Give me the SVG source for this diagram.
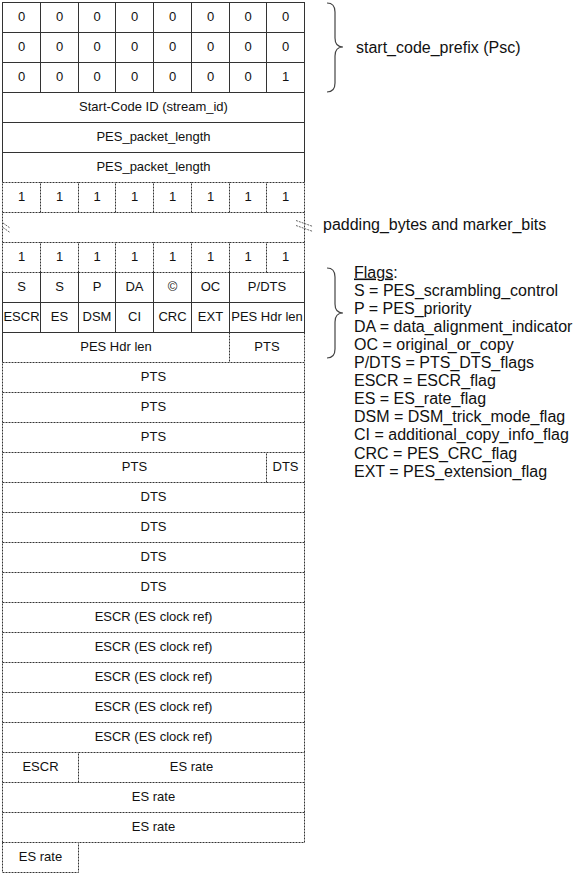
<svg xmlns="http://www.w3.org/2000/svg" width="577" height="877" viewBox="0 0 577 877">
<style>
.s{fill:none;stroke:#333;stroke-width:1}
.d{fill:none;stroke:#333;stroke-width:1;stroke-dasharray:2,1}
.t{font-family:"Liberation Sans",Arial,sans-serif;font-size:13px;fill:#111;text-anchor:middle}
.l{font-family:"Liberation Sans",Arial,sans-serif;font-size:16px;fill:#111}
.b{fill:none;stroke:#444;stroke-width:1.2}
.m{fill:none;stroke:#666;stroke-width:1;stroke-dasharray:2,1}
</style>
<rect width="577" height="877" fill="#fff"/>
<g id="psc">
<g id="r0c0"><rect class="s" x="2.5" y="2.5" width="38" height="30"/><text class="t" x="21.5" y="21">0</text></g>
<g id="r0c1"><rect class="s" x="40.5" y="2.5" width="38" height="30"/><text class="t" x="59.5" y="21">0</text></g>
<g id="r0c2"><rect class="s" x="78.5" y="2.5" width="37" height="30"/><text class="t" x="97" y="21">0</text></g>
<g id="r0c3"><rect class="s" x="115.5" y="2.5" width="38" height="30"/><text class="t" x="134.5" y="21">0</text></g>
<g id="r0c4"><rect class="s" x="153.5" y="2.5" width="38" height="30"/><text class="t" x="172.5" y="21">0</text></g>
<g id="r0c5"><rect class="s" x="191.5" y="2.5" width="38" height="30"/><text class="t" x="210.5" y="21">0</text></g>
<g id="r0c6"><rect class="s" x="229.5" y="2.5" width="37" height="30"/><text class="t" x="248" y="21">0</text></g>
<g id="r0c7"><rect class="s" x="266.5" y="2.5" width="38" height="30"/><text class="t" x="285.5" y="21">0</text></g>
<g id="r1c0"><rect class="s" x="2.5" y="32.5" width="38" height="30"/><text class="t" x="21.5" y="51">0</text></g>
<g id="r1c1"><rect class="s" x="40.5" y="32.5" width="38" height="30"/><text class="t" x="59.5" y="51">0</text></g>
<g id="r1c2"><rect class="s" x="78.5" y="32.5" width="37" height="30"/><text class="t" x="97" y="51">0</text></g>
<g id="r1c3"><rect class="s" x="115.5" y="32.5" width="38" height="30"/><text class="t" x="134.5" y="51">0</text></g>
<g id="r1c4"><rect class="s" x="153.5" y="32.5" width="38" height="30"/><text class="t" x="172.5" y="51">0</text></g>
<g id="r1c5"><rect class="s" x="191.5" y="32.5" width="38" height="30"/><text class="t" x="210.5" y="51">0</text></g>
<g id="r1c6"><rect class="s" x="229.5" y="32.5" width="37" height="30"/><text class="t" x="248" y="51">0</text></g>
<g id="r1c7"><rect class="s" x="266.5" y="32.5" width="38" height="30"/><text class="t" x="285.5" y="51">0</text></g>
<g id="r2c0"><rect class="s" x="2.5" y="62.5" width="38" height="30"/><text class="t" x="21.5" y="81">0</text></g>
<g id="r2c1"><rect class="s" x="40.5" y="62.5" width="38" height="30"/><text class="t" x="59.5" y="81">0</text></g>
<g id="r2c2"><rect class="s" x="78.5" y="62.5" width="37" height="30"/><text class="t" x="97" y="81">0</text></g>
<g id="r2c3"><rect class="s" x="115.5" y="62.5" width="38" height="30"/><text class="t" x="134.5" y="81">0</text></g>
<g id="r2c4"><rect class="s" x="153.5" y="62.5" width="38" height="30"/><text class="t" x="172.5" y="81">0</text></g>
<g id="r2c5"><rect class="s" x="191.5" y="62.5" width="38" height="30"/><text class="t" x="210.5" y="81">0</text></g>
<g id="r2c6"><rect class="s" x="229.5" y="62.5" width="37" height="30"/><text class="t" x="248" y="81">0</text></g>
<g id="r2c7"><rect class="s" x="266.5" y="62.5" width="38" height="30"/><text class="t" x="285.5" y="81">1</text></g>
</g>
<g id="stream-id"><rect class="s" x="2.5" y="92.5" width="302" height="30"/><text class="t" x="153.5" y="111">Start-Code ID (stream_id)</text></g>
<g id="len1"><rect class="s" x="2.5" y="122.5" width="302" height="30"/><text class="t" x="153.5" y="141">PES_packet_length</text></g>
<g id="len2"><path class="s" d="M2.5,182.5V152.5H304.5V182.5"/><text class="t" x="153.5" y="171">PES_packet_length</text></g>
<g id="ones-a">
<g id="r6c0"><path class="d" d="M2.5,212.5V182.5H40.5"/><text class="t" x="21.5" y="201">1</text></g>
<g id="r6c1"><path class="d" d="M40.5,212.5V182.5H78.5"/><text class="t" x="59.5" y="201">1</text></g>
<g id="r6c2"><path class="d" d="M78.5,212.5V182.5H115.5"/><text class="t" x="97" y="201">1</text></g>
<g id="r6c3"><path class="d" d="M115.5,212.5V182.5H153.5"/><text class="t" x="134.5" y="201">1</text></g>
<g id="r6c4"><path class="d" d="M153.5,212.5V182.5H191.5"/><text class="t" x="172.5" y="201">1</text></g>
<g id="r6c5"><path class="d" d="M191.5,212.5V182.5H229.5"/><text class="t" x="210.5" y="201">1</text></g>
<g id="r6c6"><path class="d" d="M229.5,212.5V182.5H266.5"/><text class="t" x="248" y="201">1</text></g>
<g id="r6c7"><path class="d" d="M266.5,212.5V182.5H304.5V212.5"/><text class="t" x="285.5" y="201">1</text></g>
</g>
<g id="padding">
<path class="d" d="M2.5,242.5V212.5H304.5V242.5"/>
<path class="m" d="M3,223L10,228M3,227.5L10,232.5M296,220.5L313,226.5M296,225.5L313,231.5"/>
</g>
<g id="ones-b">
<g id="r8c0"><path class="d" d="M2.5,272.5V242.5H40.5M2.5,272.5H40.5"/><text class="t" x="21.5" y="261">1</text></g>
<g id="r8c1"><path class="d" d="M40.5,272.5V242.5H78.5M40.5,272.5H78.5"/><text class="t" x="59.5" y="261">1</text></g>
<g id="r8c2"><path class="d" d="M78.5,272.5V242.5H115.5M78.5,272.5H115.5"/><text class="t" x="97" y="261">1</text></g>
<g id="r8c3"><path class="d" d="M115.5,272.5V242.5H153.5M115.5,272.5H153.5"/><text class="t" x="134.5" y="261">1</text></g>
<g id="r8c4"><path class="d" d="M153.5,272.5V242.5H191.5M153.5,272.5H191.5"/><text class="t" x="172.5" y="261">1</text></g>
<g id="r8c5"><path class="d" d="M191.5,272.5V242.5H229.5M191.5,272.5H229.5"/><text class="t" x="210.5" y="261">1</text></g>
<g id="r8c6"><path class="d" d="M229.5,272.5V242.5H266.5M229.5,272.5H266.5"/><text class="t" x="248" y="261">1</text></g>
<g id="r8c7"><path class="d" d="M266.5,272.5V242.5H304.5V272.5M266.5,272.5H304.5"/><text class="t" x="285.5" y="261">1</text></g>
</g>
<g id="flags-1">
<g id="f-s1"><path class="s" d="M2.5,272.5V302.5H40.5V272.5"/><text class="t" x="21.5" y="291">S</text></g>
<g id="f-s2"><path class="s" d="M40.5,272.5V302.5H78.5V272.5"/><text class="t" x="59.5" y="291">S</text></g>
<g id="f-p"><path class="s" d="M78.5,272.5V302.5H115.5V272.5"/><text class="t" x="97" y="291">P</text></g>
<g id="f-da"><path class="s" d="M115.5,272.5V302.5H153.5V272.5"/><text class="t" x="134.5" y="291">DA</text></g>
<g id="f-c"><path class="s" d="M153.5,272.5V302.5H191.5V272.5"/><text class="t" x="172.5" y="291">©</text></g>
<g id="f-oc"><path class="s" d="M191.5,272.5V302.5H229.5V272.5"/><text class="t" x="210.5" y="291">OC</text></g>
<g id="f-pdts"><path class="s" d="M229.5,272.5V302.5H304.5V272.5"/><text class="t" x="267" y="291">P/DTS</text></g>
</g>
<g id="flags-2">
<g id="f-escr"><rect class="s" x="2.5" y="302.5" width="38" height="30"/><text class="t" x="21.5" y="321">ESCR</text></g>
<g id="f-es"><rect class="s" x="40.5" y="302.5" width="38" height="30"/><text class="t" x="59.5" y="321">ES</text></g>
<g id="f-dsm"><rect class="s" x="78.5" y="302.5" width="37" height="30"/><text class="t" x="97" y="321">DSM</text></g>
<g id="f-ci"><rect class="s" x="115.5" y="302.5" width="38" height="30"/><text class="t" x="134.5" y="321">CI</text></g>
<g id="f-crc"><rect class="s" x="153.5" y="302.5" width="38" height="30"/><text class="t" x="172.5" y="321">CRC</text></g>
<g id="f-ext"><rect class="s" x="191.5" y="302.5" width="38" height="30"/><text class="t" x="210.5" y="321">EXT</text></g>
<g id="f-hdr"><rect class="s" x="229.5" y="302.5" width="75" height="30"/><text class="t" x="267" y="321">PES Hdr len</text></g>
</g>
<g id="hdrlen"><path class="s" d="M2.5,362.5V332.5H229.5"/><text class="t" x="116" y="351">PES Hdr len</text></g>
<g id="pts0"><path class="d" d="M229.5,332.5V362.5M304.5,332.5V362.5"/><text class="t" x="267" y="351">PTS</text></g>
<g id="pts1"><path class="d" d="M2.5,392.5V362.5H304.5V392.5"/><text class="t" x="153.5" y="381">PTS</text></g>
<g id="pts2"><path class="d" d="M2.5,422.5V392.5H304.5V422.5"/><text class="t" x="153.5" y="411">PTS</text></g>
<g id="pts3"><path class="d" d="M2.5,452.5V422.5H304.5V452.5"/><text class="t" x="153.5" y="441">PTS</text></g>
<g id="pts4"><path class="d" d="M2.5,482.5V452.5H266.5"/><text class="t" x="134.5" y="471">PTS</text></g>
<g id="dts0"><path class="d" d="M266.5,482.5V452.5H304.5V482.5"/><text class="t" x="285.5" y="471">DTS</text></g>
<g id="dts1"><path class="d" d="M2.5,512.5V482.5H304.5V512.5"/><text class="t" x="153.5" y="501">DTS</text></g>
<g id="dts2"><path class="d" d="M2.5,542.5V512.5H304.5V542.5"/><text class="t" x="153.5" y="531">DTS</text></g>
<g id="dts3"><path class="d" d="M2.5,572.5V542.5H304.5V572.5"/><text class="t" x="153.5" y="561">DTS</text></g>
<g id="dts4"><path class="d" d="M2.5,602.5V572.5H304.5V602.5"/><text class="t" x="153.5" y="591">DTS</text></g>
<g id="escr1"><path class="d" d="M2.5,632.5V602.5H304.5V632.5"/><text class="t" x="153.5" y="621">ESCR (ES clock ref)</text></g>
<g id="escr2"><path class="d" d="M2.5,662.5V632.5H304.5V662.5"/><text class="t" x="153.5" y="651">ESCR (ES clock ref)</text></g>
<g id="escr3"><path class="d" d="M2.5,692.5V662.5H304.5V692.5"/><text class="t" x="153.5" y="681">ESCR (ES clock ref)</text></g>
<g id="escr4"><path class="d" d="M2.5,722.5V692.5H304.5V722.5"/><text class="t" x="153.5" y="711">ESCR (ES clock ref)</text></g>
<g id="escr5"><path class="d" d="M2.5,752.5V722.5H304.5V752.5"/><text class="t" x="153.5" y="741">ESCR (ES clock ref)</text></g>
<g id="escr6"><path class="d" d="M2.5,782.5V752.5H78.5"/><text class="t" x="40.5" y="771">ESCR</text></g>
<g id="esr1"><path class="d" d="M78.5,782.5V752.5H304.5V782.5"/><text class="t" x="191.5" y="771">ES rate</text></g>
<g id="esr2"><path class="d" d="M2.5,812.5V782.5H304.5V812.5"/><text class="t" x="153.5" y="801">ES rate</text></g>
<g id="esr3"><path class="d" d="M2.5,842.5V812.5H304.5V842.5H78.5"/><text class="t" x="153.5" y="831">ES rate</text></g>
<g id="esr4"><rect class="d" x="2.5" y="842.5" width="76" height="30"/><text class="t" x="40.5" y="861">ES rate</text></g>
<g id="brace-psc"><path class="b" d="M327,3Q335,3 335,12L335,38Q335,47 343,47Q335,47 335,56L335,83Q335,92 327,92"/><text class="l" x="356" y="52.5">start_code_prefix (Psc)</text></g>
<g id="label-padding"><text class="l" x="323" y="230">padding_bytes and marker_bits</text></g>
<g id="brace-flags"><path class="b" d="M327,268Q335,268 335,277L335,304Q335,313 343,313Q335,313 335,322L335,349Q335,358 327,358"/>
<text class="l" x="354" y="277.5"><tspan text-decoration="underline">Flags</tspan>:</text>
<text class="l" x="354" y="295.6">S = PES_scrambling_control</text>
<text class="l" x="354" y="313.7">P = PES_priority</text>
<text class="l" x="354" y="331.8">DA = data_alignment_indicator</text>
<text class="l" x="354" y="349.9">OC = original_or_copy</text>
<text class="l" x="354" y="368">P/DTS = PTS_DTS_flags</text>
<text class="l" x="354" y="386.1">ESCR = ESCR_flag</text>
<text class="l" x="354" y="404.2">ES = ES_rate_flag</text>
<text class="l" x="354" y="422.3">DSM = DSM_trick_mode_flag</text>
<text class="l" x="354" y="440.4">CI = additional_copy_info_flag</text>
<text class="l" x="354" y="458.5">CRC = PES_CRC_flag</text>
<text class="l" x="354" y="476.6">EXT = PES_extension_flag</text>
</g>
</svg>
